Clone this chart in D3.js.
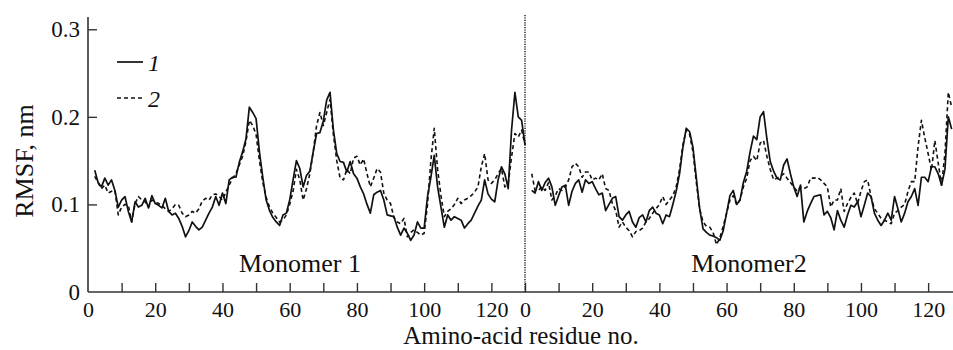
<!DOCTYPE html>
<html>
<head>
<meta charset="utf-8">
<script src="https://cdn.jsdelivr.net/npm/d3@7"></script>
<style>
  body { margin: 0; background: #fff; }
</style>
</head>
<body>
<div id="chart"></div>
<script>
// residues start at 2 in both monomers
const start1 = 2;
const start2 = 2;

const mono1Run1 = [0.139,0.125,0.12,0.13,0.122,0.128,0.116,0.097,0.105,0.109,0.092,0.08,0.103,0.097,0.099,0.107,0.096,0.11,0.101,0.099,
  0.096,0.107,0.092,0.088,0.09,0.084,0.075,0.063,0.07,0.08,0.075,0.071,0.074,0.082,0.09,0.097,0.109,0.099,0.113,0.101,
  0.128,0.131,0.131,0.148,0.16,0.175,0.211,0.205,0.198,0.16,0.131,0.105,0.093,0.085,0.08,0.076,0.088,0.09,0.105,0.128,
  0.15,0.141,0.12,0.133,0.138,0.16,0.181,0.182,0.195,0.219,0.228,0.185,0.158,0.149,0.148,0.137,0.149,0.135,0.13,0.12,
  0.112,0.1,0.09,0.111,0.114,0.116,0.105,0.088,0.087,0.086,0.074,0.065,0.073,0.067,0.059,0.065,0.08,0.073,0.073,0.109,
  0.131,0.156,0.12,0.097,0.074,0.088,0.082,0.086,0.084,0.082,0.073,0.078,0.082,0.09,0.098,0.105,0.128,0.112,0.106,0.103,
  0.128,0.143,0.135,0.118,0.185,0.228,0.2,0.196,0.168];

const mono1Run2 = [0.132,0.125,0.118,0.122,0.113,0.115,0.116,0.088,0.097,0.1,0.099,0.08,0.101,0.109,0.105,0.103,0.097,0.105,0.103,0.101,
  0.099,0.095,0.092,0.095,0.1,0.099,0.09,0.086,0.088,0.092,0.09,0.095,0.104,0.107,0.105,0.111,0.112,0.109,0.105,0.114,
  0.122,0.13,0.135,0.145,0.155,0.172,0.196,0.19,0.18,0.15,0.125,0.108,0.097,0.09,0.085,0.08,0.082,0.088,0.1,0.115,
  0.14,0.128,0.105,0.118,0.135,0.16,0.19,0.205,0.19,0.205,0.22,0.18,0.15,0.13,0.128,0.14,0.135,0.153,0.155,0.145,
  0.152,0.135,0.12,0.13,0.141,0.137,0.113,0.105,0.101,0.085,0.08,0.078,0.084,0.063,0.068,0.071,0.068,0.065,0.067,0.1,
  0.15,0.187,0.14,0.11,0.086,0.092,0.095,0.1,0.107,0.101,0.105,0.107,0.11,0.114,0.12,0.143,0.158,0.128,0.124,0.128,
  0.135,0.141,0.12,0.124,0.154,0.181,0.177,0.185,0.168];

const mono2Run1 = [0.116,0.113,0.126,0.116,0.125,0.13,0.12,0.099,0.11,0.12,0.122,0.099,0.115,0.124,0.128,0.114,0.128,0.124,0.126,0.118,
  0.111,0.113,0.093,0.1,0.107,0.109,0.086,0.082,0.088,0.092,0.08,0.074,0.085,0.088,0.08,0.093,0.097,0.09,0.088,0.078,
  0.088,0.086,0.1,0.115,0.135,0.165,0.187,0.183,0.165,0.13,0.095,0.072,0.068,0.065,0.064,0.062,0.059,0.07,0.09,0.11,
  0.116,0.1,0.105,0.125,0.138,0.16,0.178,0.174,0.2,0.206,0.175,0.149,0.138,0.13,0.128,0.145,0.152,0.135,0.12,0.109,
  0.122,0.08,0.092,0.101,0.109,0.11,0.111,0.088,0.092,0.085,0.071,0.093,0.082,0.074,0.088,0.099,0.097,0.103,0.086,0.099,
  0.113,0.109,0.09,0.082,0.076,0.082,0.09,0.082,0.109,0.095,0.08,0.09,0.103,0.109,0.118,0.099,0.131,0.131,0.126,0.143,
  0.143,0.135,0.122,0.14,0.2,0.186];

const mono2Run2 = [0.135,0.116,0.116,0.12,0.116,0.125,0.105,0.11,0.118,0.116,0.12,0.128,0.143,0.147,0.143,0.131,0.137,0.137,0.128,0.13,
  0.128,0.135,0.118,0.116,0.101,0.093,0.074,0.08,0.074,0.07,0.063,0.069,0.07,0.073,0.08,0.084,0.09,0.095,0.1,0.109,
  0.1,0.105,0.11,0.12,0.14,0.168,0.185,0.18,0.16,0.125,0.095,0.08,0.075,0.074,0.068,0.054,0.062,0.075,0.09,0.105,
  0.11,0.1,0.105,0.12,0.13,0.15,0.155,0.15,0.17,0.173,0.155,0.14,0.128,0.13,0.132,0.135,0.13,0.125,0.12,0.115,
  0.12,0.118,0.12,0.13,0.13,0.131,0.128,0.124,0.12,0.097,0.105,0.105,0.118,0.092,0.101,0.108,0.113,0.101,0.115,0.126,
  0.128,0.109,0.095,0.09,0.084,0.082,0.08,0.078,0.09,0.093,0.097,0.1,0.115,0.126,0.126,0.166,0.196,0.176,0.158,0.139,
  0.173,0.147,0.122,0.158,0.228,0.211];

const yTicks = [0, 0.1, 0.2, 0.3];
const xTicks1 = d3.range(0, 130, 10);
const xTicks2 = d3.range(0, 128, 10);
const legendLabels = ['1', '2'];
const panelLabels = ['Monomer 1', 'Monomer2'];

const width = 953, height = 350;
const plotLeft = 88, plotMid = 525, plotRight = 953, plotBottom = 292, plotTop = 17;
const serif = '"Liberation Serif", "Times New Roman", "DejaVu Serif", serif';

const svg = d3.select('#chart').append('svg')
  .attr('width', width)
  .attr('height', height)
  .attr('font-family', serif);

const y = d3.scaleLinear().domain([0, 0.314]).range([plotBottom, plotTop]);
const x1 = d3.scaleLinear().domain([0, 130]).range([plotLeft, plotMid]);
const x2 = d3.scaleLinear().domain([0, 127.4]).range([plotMid, plotRight]);

const toPoints = (vals, s) => vals.map((v, i) => [s + i, v]);

// axes
const axisColor = '#333';

svg.append('line')
  .attr('x1', plotLeft).attr('x2', plotRight)
  .attr('y1', plotBottom).attr('y2', plotBottom)
  .attr('stroke', axisColor).attr('stroke-width', 1.6);

svg.append('line')
  .attr('x1', plotLeft).attr('x2', plotLeft)
  .attr('y1', plotTop).attr('y2', plotBottom)
  .attr('stroke', axisColor).attr('stroke-width', 1.6);

function xAxis(scale, ticks) {
  const g = svg.append('g')
    .attr('transform', `translate(0, ${plotBottom})`)
    .call(d3.axisBottom(scale)
      .tickValues(ticks)
      .tickSize(-9)
      .tickPadding(9)
      .tickFormat(d => d % 20 === 0 ? d : ''));
  g.attr('font-family', serif).attr('font-size', 22);
  g.select('.domain').remove();
  g.selectAll('.tick line').attr('stroke', axisColor).attr('stroke-width', 1.4);
  g.selectAll('.tick text').attr('fill', '#111').attr('dy', '0.71em');
  return g;
}
const ax1 = xAxis(x1, xTicks1);
ax1.selectAll('.tick').filter(d => d === 0).select('line').remove();
xAxis(x2, xTicks2);

const yAx = svg.append('g')
  .attr('transform', `translate(${plotLeft}, 0)`)
  .call(d3.axisLeft(y)
    .tickValues(yTicks)
    .tickSize(-9)
    .tickPadding(8)
    .tickFormat(d => d === 0 ? '0' : d3.format('.1f')(d)));
yAx.attr('font-family', serif).attr('font-size', 23);
yAx.select('.domain').remove();
yAx.selectAll('.tick line').attr('stroke', axisColor).attr('stroke-width', 1.4);
yAx.selectAll('.tick text').attr('fill', '#111');
yAx.selectAll('.tick').filter(d => d === 0).select('line').remove();

// divider between monomers
svg.append('line')
  .attr('x1', plotMid).attr('x2', plotMid)
  .attr('y1', 15).attr('y2', plotBottom)
  .attr('stroke', '#222')
  .attr('stroke-width', 1.5)
  .attr('stroke-dasharray', '1.2,1.2');

// series
const styles = [
  { dash: null, w: 1.7 },
  { dash: '4,3', w: 1.6 }
];

function drawLine(scale, pts, st) {
  const line = d3.line().x(d => scale(d[0])).y(d => y(d[1]));
  svg.append('path')
    .datum(pts)
    .attr('fill', 'none')
    .attr('stroke', '#111')
    .attr('stroke-width', st.w)
    .attr('stroke-linejoin', 'round')
    .attr('stroke-dasharray', st.dash)
    .attr('d', line);
}

drawLine(x1, toPoints(mono1Run2, start1), styles[1]);
drawLine(x1, toPoints(mono1Run1, start1), styles[0]);
drawLine(x2, toPoints(mono2Run2, start2), styles[1]);
drawLine(x2, toPoints(mono2Run1, start2), styles[0]);

// panel labels
svg.append('text').attr('x', 300).attr('y', 272).attr('fill', '#111')
  .attr('text-anchor', 'middle').attr('font-size', 26).text(panelLabels[0]);
svg.append('text').attr('x', 749).attr('y', 272).attr('fill', '#111')
  .attr('text-anchor', 'middle').attr('font-size', 26).text(panelLabels[1]);

// axis titles
svg.append('text').attr('x', 521).attr('y', 344).attr('fill', '#111')
  .attr('text-anchor', 'middle').attr('font-size', 25).text('Amino-acid residue no.');
svg.append('text').attr('fill', '#111')
  .attr('transform', 'translate(33, 161) rotate(-90)')
  .attr('text-anchor', 'middle').attr('font-size', 26).text('RMSF, nm');

// legend
const legend = svg.append('g');
legendLabels.forEach((lab, i) => {
  const ly = 62 + i * 36;
  legend.append('line')
    .attr('x1', 117).attr('x2', 143)
    .attr('y1', ly).attr('y2', ly)
    .attr('stroke', '#111')
    .attr('stroke-width', styles[i].w)
    .attr('stroke-dasharray', styles[i].dash);
  legend.append('text')
    .attr('x', 148).attr('y', ly + 9).attr('fill', '#111')
    .attr('font-size', 24).attr('font-style', 'italic')
    .text(lab);
});
</script>
</body>
</html>
